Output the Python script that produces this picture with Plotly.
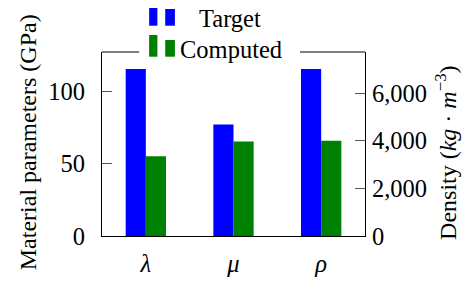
import plotly.graph_objects as go

categories = ["λ", "μ", "ρ"]
category_labels = ["<i>λ</i>", "<i>μ</i>", "<i>ρ</i>"]
target_gpa = [115.6, 77.2, None]
computed_gpa = [55.2, 65.4, None]
target_density = [None, None, 7010]
computed_density = [None, None, 4000]
left_ticks = [0, 50, 100]
right_ticks = [0, 2000, 4000, 6000]

BLUE = "#0000ff"
GREEN = "#008000"
FONT = "Liberation Serif"
W = 0.23
FS = 24.5

fig = go.Figure()
fig.add_trace(go.Bar(x=categories, y=target_gpa, name="Target", marker=dict(color=BLUE, line=dict(width=0)),
                     width=W, offset=-W, yaxis="y", showlegend=False))
fig.add_trace(go.Bar(x=categories, y=computed_gpa, name="Computed", marker=dict(color=GREEN, line=dict(width=0)),
                     width=W, offset=0, yaxis="y", showlegend=False))
fig.add_trace(go.Bar(x=categories, y=target_density, name="Target", marker=dict(color=BLUE, line=dict(width=0)),
                     width=W, offset=-W, yaxis="y2", showlegend=False))
fig.add_trace(go.Bar(x=categories, y=computed_density, name="Computed", marker=dict(color=GREEN, line=dict(width=0)),
                     width=W, offset=0, yaxis="y2", showlegend=False))

# the page body has an 8px margin, so the figure is 8px smaller than the window
fig.update_layout(
    width=467, height=278,
    margin=dict(l=94, r=110, t=44, b=50, autoexpand=False),
    paper_bgcolor="white", plot_bgcolor="white",
    barmode="overlay",
    font=dict(family=FONT, size=FS, color="black"),
    xaxis=dict(type="category", range=[-0.5, 2.5], tickvals=categories, ticktext=category_labels,
               showline=True, linecolor="black", linewidth=1, ticks="", showgrid=False, automargin=False,
               tickfont=dict(size=FS), ticklabelstandoff=6, zeroline=False),
    yaxis=dict(range=[0, 127.4], tickvals=left_ticks, showline=True, linecolor="black", linewidth=1,
               ticks="inside", ticklen=10, tickcolor="#555555", showgrid=False, zeroline=False,
               automargin=False, tickfont=dict(size=FS), ticklabelstandoff=11),
    yaxis2=dict(range=[0, 7726], tickvals=right_ticks, tickformat=",", overlaying="y", side="right",
                showline=True, linecolor="black", linewidth=1, ticks="inside", ticklen=10,
                tickcolor="#555555", showgrid=False, zeroline=False, tickfont=dict(size=FS),
                automargin=False, ticklabelstandoff=1),
)

# helpers: reference pixel -> paper fraction (plot area spans x 102..357, y 52..236)
px = lambda v: (v - 102) / 255.0
py = lambda v: 1 - (v - 52) / 184.0

# top frame line, broken by the legend
for x0, x1 in [(102, 138), (294, 357)]:
    fig.add_shape(type="line", xref="paper", yref="paper", x0=px(x0), x1=px(x1), y0=1, y1=1,
                  line=dict(color="black", width=1), layer="above")

# legend icons
for color, (top1, top2, bottom) in [(BLUE, (4, 9, 25.7)), (GREEN, (35, 40, 56.7))]:
    fig.add_shape(type="rect", xref="paper", yref="paper", x0=px(147.7), x1=px(155.7),
                  y0=py(bottom), y1=py(top1), fillcolor=color, line=dict(width=0), layer="above")
    fig.add_shape(type="rect", xref="paper", yref="paper", x0=px(163.3), x1=px(172.7),
                  y0=py(bottom), y1=py(top2), fillcolor=color, line=dict(width=0), layer="above")

fig.add_annotation(text="Target", xref="paper", yref="paper", x=px(226.5), y=py(18), xanchor="center",
                   yanchor="middle", showarrow=False, font=dict(size=FS))
fig.add_annotation(text="Computed", xref="paper", yref="paper", x=px(227), y=py(49), xanchor="center",
                   yanchor="middle", showarrow=False, font=dict(size=FS))

fig.add_annotation(text="Material parameters (GPa)", xref="paper", yref="paper", x=px(30), y=py(142.5),
                   xanchor="center", yanchor="middle", textangle=-90, showarrow=False, font=dict(size=24))
fig.add_annotation(text="Density (<i>kg</i> · <i>m</i><sup>−3</sup>)", xref="paper", yref="paper",
                   x=px(435), y=py(152.5), xanchor="center", yanchor="middle", textangle=-90,
                   showarrow=False, font=dict(size=24))

fig.write_html("out.html")
